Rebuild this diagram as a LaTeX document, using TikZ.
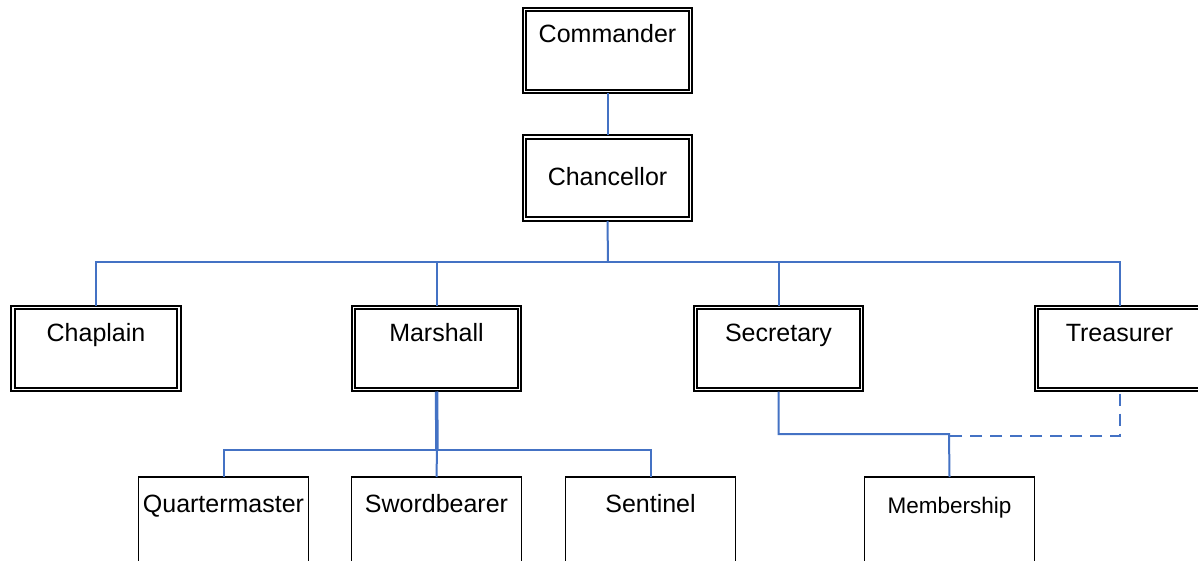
\documentclass[tikz,border=0pt]{standalone}
\usepackage{fontspec}
\setmainfont{Liberation Sans}
\definecolor{conblue}{HTML}{4472C4}
\begin{document}
\begin{tikzpicture}[x=1pt,y=-1pt,
  dbox/.style={draw=black,double=white,line width=1.8pt,double distance=1.6pt,
    minimum width=166pt,minimum height=82pt,inner sep=0pt,outer sep=0pt},
  sbox/.style={draw=black,line width=1.8pt,minimum width=170pt,minimum height=100pt,
    inner sep=0pt,outer sep=0pt},
  lbl/.style={anchor=base,inner sep=0pt,font=\fontsize{25}{29}\selectfont},
  slbl/.style={anchor=base,inner sep=0pt,font=\fontsize{22.5}{26}\selectfont},
  con/.style={draw=conblue,line width=2pt},
  thickcon/.style={draw=conblue,line width=3.5pt},
  dcon/.style={draw=conblue,line width=2pt,dash pattern=on 12pt off 8pt}]
\useasboundingbox (0,0) rectangle (1198,561);
\clip (0,0) rectangle (1198,561);
\fill[white] (0,0) rectangle (1198,561);
% top boxes
\node[dbox] (cmd) at (607.5,50.5) {};
\node[lbl] (cmdt) at (607.5,43) {Commander};
\node[dbox] (chn) at (607.5,178) {};
\node[lbl] (chnt) at (607.5,186) {Chancellor};
% second row
\node[dbox] (chp) at (96,348.5) {};
\node[lbl] (chpt) at (96,341) {Chaplain};
\node[dbox] (mar) at (436.5,348.5) {};
\node[lbl] (mart) at (436.5,341) {Marshall};
\node[dbox] (sec) at (778.5,348.5) {};
\node[lbl] (sect) at (778.5,341) {Secretary};
\node[dbox] (tre) at (1119.5,348.5) {};
\node[lbl] (tret) at (1119.5,341) {Treasurer};
% bottom row
\node[sbox,anchor=north] (qm) at (223.5,477) {};
\node[lbl] (qmt) at (223.5,512) {Quartermaster};
\node[sbox,anchor=north] (swb) at (436.5,477) {};
\node[lbl] (swbt) at (436.5,512) {Swordbearer};
\node[sbox,anchor=north] (sen) at (650.5,477) {};
\node[lbl] (sent) at (650.5,512) {Sentinel};
\node[sbox,anchor=north] (mem) at (949.5,477) {};
\node[slbl] (memt) at (949.5,513) {Membership};
% coordinates
\coordinate (bus) at (608,262);
\coordinate (mbus) at (437,450);
\coordinate (sbus) at (949,435);
% connectors
\draw[con] ([yshift=-2pt]cmd.south) -- ([yshift=2pt]chn.north);
\draw[con] ([yshift=-2pt]chn.south) -- (bus);
\draw[con] (bus) -| ([yshift=2pt]chp.north);
\draw[con] (bus) -| ([yshift=2pt]mar.north);
\draw[con] (bus) -| ([yshift=2pt]sec.north);
\draw[con] (bus) -| ([yshift=2pt]tre.north);
\draw[thickcon] ([yshift=-2pt]mar.south) -- (mbus);
\draw[con] (mbus) -| (qm.north);
\draw[con] (mbus) -- (swb.north);
\draw[con] (mbus) -| (sen.north);
\draw[con] ([yshift=-2pt]sec.south) |- ([yshift=1pt]sbus) -- (mem.north);
\draw[dcon] ([yshift=-4pt]tre.south) |- ([yshift=-1pt]sbus);
\end{tikzpicture}
\end{document}
